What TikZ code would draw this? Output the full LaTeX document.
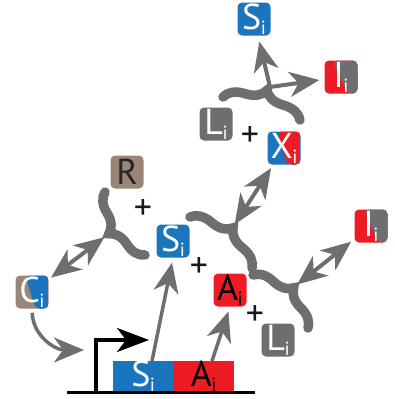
\documentclass[tikz,border=0pt]{standalone}
\usepackage{fontspec}
\setmainfont{PT Sans}
\usetikzlibrary{arrows.meta,calc,decorations.pathreplacing}
\definecolor{cblue}{HTML}{1B75BC}
\definecolor{cred}{HTML}{ED1C24}
\definecolor{cgray}{HTML}{6D6E71}
\definecolor{cbrown}{HTML}{9A8678}
\newcommand{\boxlab}[2]{{\fontsize{36}{36}\selectfont #1}\kern-0.5pt\raisebox{-5pt}{\fontsize{19}{19}\selectfont #2}}
\begin{document}
\begin{tikzpicture}[x=1pt,y=-1pt,
  bx/.style={rounded corners=4.5pt, minimum width=33pt, minimum height=33pt, inner sep=0pt, text=white},
  splitbox/.style n args={4}{bx, fill=#1, path picture={
     \fill[#2] ($(path picture bounding box.north west)!#3!(path picture bounding box.north east)$)
       -- (path picture bounding box.north east) -- (path picture bounding box.south east)
       -- ($(path picture bounding box.south west)!#4!(path picture bounding box.south east)$) -- cycle;}},
  gtip/.tip={Stealth[length=30pt,width=25pt,inset=9pt]},
  arr/.style={draw=cgray, line width=4pt, -gtip},
  darr/.style={draw=cgray, line width=4pt, gtip-gtip},
  brc/.style={draw=cgray, line width=9.5pt, line cap=round, decorate, decoration={brace, amplitude=19pt}},
  plus/.style={font=\fontsize{36}{36}\selectfont, text=black!90, inner sep=0pt},
]
\useasboundingbox (0,0) rectangle (394,399);

% nodes
\node[bx, fill=cblue] (St) at (254,19) {\boxlab{S}{i}};
\node[splitbox={cred}{cgray}{0.25}{0.7}] (It) at (341,77) {\boxlab{I}{i}};
\node[bx, fill=cgray] (Lt) at (216,124) {\boxlab{L}{i}};
\node[splitbox={cblue}{cred}{0.3}{0.6}] (X) at (284,148) {\boxlab{X}{i}};
\node[bx, fill=cbrown, text=black!85] (R) at (127,172) {{\fontsize{36}{36}\selectfont R}};
\node[bx, fill=cblue] (Sm) at (173,241) {\boxlab{S}{i}};
\node[splitbox={cbrown}{cblue}{0.3}{0.6}] (C) at (32,292) {\boxlab{C}{i}};
\node[bx, fill=cred, text=black] (A) at (230,290) {\boxlab{A}{i}};
\node[bx, fill=cgray] (Lb) at (278,340) {\boxlab{L}{i}};
\node[splitbox={cred}{cgray}{0.3}{0.7}] (Ir) at (371,226) {\boxlab{I}{i}};

% plus signs
\node[plus] (p1) at (250,137) {+};
\node[plus] (p2) at (143,210) {+};
\node[plus] (p3) at (199,268) {+};
\node[plus] (p4) at (255,316) {+};

% gene
\node[fill=cblue, minimum width=60pt, minimum height=30pt, inner sep=0pt, text=white, anchor=north west] (gs) at (113,361) {\boxlab{S}{i}};
\node[fill=cred, minimum width=61pt, minimum height=30pt, inner sep=0pt, text=black, anchor=north west] (ga) at (173,361) {\boxlab{A}{i}};
\coordinate (l0) at (67,392.5);
\coordinate (l1) at (255,392.5);
\draw[black, line width=3.5pt] (l0) -- (l1);
\coordinate (pr0) at (96,392.5);
\coordinate (pr1) at (149,340);
\draw[black, line width=3.5pt, -{Stealth[length=32pt,width=24pt,inset=9pt]}] (pr0) |- (pr1);

% braces
\coordinate (tb1) at (223,97);   \coordinate (tb2) at (300,120);  \coordinate (tbt) at (270,87);
\coordinate (lb1) at (145,255);  \coordinate (lb2) at (105,192);  \coordinate (lbt) at (110,233);
\coordinate (mb1) at (190,217);  \coordinate (mb2) at (252,268);  \coordinate (mbt) at (233,227);
\coordinate (rb1) at (253,275);  \coordinate (rb2) at (308,328);  \coordinate (rbt) at (294,287);
\draw[brc] (tb1) -- (tb2);
\draw[brc] (lb1) -- (lb2);
\draw[brc] (mb1) -- (mb2);
\draw[brc] (rb1) -- (rb2);

% connectors
\draw[arr, shorten >=6pt] (tbt) -- (St);
\draw[arr, shorten >=5pt] (tbt) -- (It);
\draw[darr, shorten <=3pt, shorten >=4pt] (mbt) -- (X);
\draw[darr, shorten <=4pt, shorten >=4pt] (rbt) -- (Ir);
\draw[darr, shorten <=3pt, shorten >=7pt] (C) -- (lbt);
\coordinate (gsa) at (152,361);
\coordinate (gaa) at (212,361);
\draw[arr, line width=3.5pt, shorten >=5pt] (gsa) -- (Sm.south);
\draw[arr, line width=3.5pt, shorten >=5pt] (gaa) -- (A.south);
\coordinate (cend) at (84,350);
\draw[arr, line width=3.5pt, shorten <=4pt] (C.south) .. controls (33,336) and (55,350) .. (cend);
\end{tikzpicture}
\end{document}
